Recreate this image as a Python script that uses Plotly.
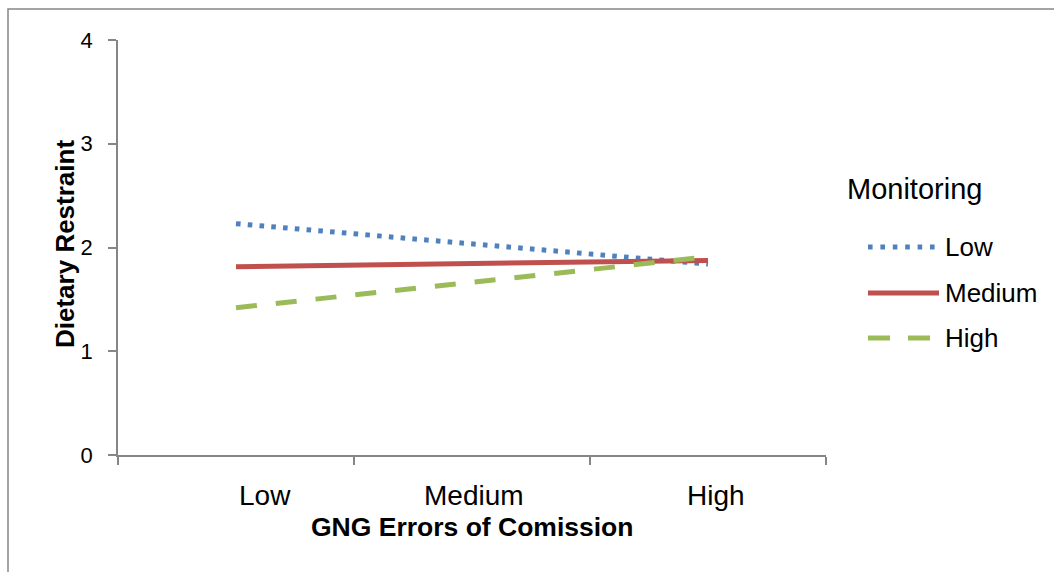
import plotly.graph_objects as go

# ---- data ----
categories = ["Low", "Medium", "High"]
monitoring_low = [2.23, None, 1.84]
monitoring_medium = [1.815, None, 1.875]
monitoring_high = [1.42, None, 1.91]
y_ticks = [0, 1, 2, 3, 4]
series_names = ["Low", "Medium", "High"]

colors = {"Low": "#4F81BD", "Medium": "#C0504D", "High": "#9BBB59"}
dashes = {"Low": "4.6px,7.2px", "Medium": "solid", "High": "21px,19px"}
leg_dashes = {"Low": "4.6px,7.8px", "Medium": "solid", "High": "22px,18px"}

W, H = 1054, 572
L, R, T, B = 118, 826, 40, 455

def px(x):
    return (x - L) / (R - L)

def py(y):
    return (B - y) / (B - T)

fig = go.Figure()
for name, vals in zip(series_names, [monitoring_low, monitoring_medium, monitoring_high]):
    fig.add_trace(go.Scatter(
        x=categories, y=vals, mode="lines", connectgaps=True, name=name,
        line=dict(color=colors[name], width=5, dash=dashes[name]),
        showlegend=False, hoverinfo="skip"))

font = "Liberation Sans, Arial, sans-serif"
axis_col = "#868686"

fig.update_layout(
    width=W, height=H,
    margin=dict(l=L, r=W - R, t=T, b=H - B, pad=0),
    paper_bgcolor="white", plot_bgcolor="white",
    font=dict(family=font, color="black"),
    xaxis=dict(type="category", categoryorder="array", categoryarray=categories,
               range=[-0.5, 2.5], tickson="boundaries", ticks="outside", ticklen=8,
               tickcolor=axis_col, tickwidth=1.5, showline=True, linecolor=axis_col,
               linewidth=1.5, showgrid=False, zeroline=False, showticklabels=False),
    yaxis=dict(range=[0, 4], tickvals=y_ticks, ticks="outside", ticklen=8,
               tickcolor=axis_col, tickwidth=1.5, showline=True, linecolor=axis_col,
               linewidth=1.5, showgrid=False, zeroline=False,
               tickfont=dict(size=22, family=font, color="black"),
               ticklabelstandoff=11),
)

shapes = []
# outer chart frame (cropped at right and bottom)
shapes.append(dict(type="rect", xref="paper", yref="paper",
                   x0=px(8), x1=px(1070), y0=py(590), y1=py(9),
                   line=dict(color="#878787", width=1.5), fillcolor="rgba(0,0,0,0)", layer="below"))

annotations = []
# category labels (Excel places them slightly right of the category centres)
label_px = [265, 474, 716]
for cat, xx in zip(categories, label_px):
    annotations.append(dict(text=cat, xref="paper", yref="paper",
                            x=px(xx), y=py(495), showarrow=False, xanchor="center", yanchor="middle",
                            font=dict(size=28, family=font, color="black")))
annotations.append(dict(text="<b>GNG Errors of Comission</b>", xref="paper", yref="paper",
                        x=px(472), y=py(527), showarrow=False, xanchor="center", yanchor="middle",
                        font=dict(size=26.5, family=font, color="black")))
annotations.append(dict(text="<b>Dietary Restraint</b>", xref="paper", yref="paper",
                        x=px(65), y=py(244), showarrow=False, xanchor="center", yanchor="middle",
                        textangle=-90, font=dict(size=26, family=font, color="black")))
# legend
annotations.append(dict(text="Monitoring", xref="paper", yref="paper",
                        x=px(845), y=py(189), showarrow=False, xanchor="left", yanchor="middle",
                        font=dict(size=29, family=font, color="black")))
leg_y = [247, 293, 338]
for name, yy in zip(series_names, leg_y):
    shapes.append(dict(type="line", xref="paper", yref="paper",
                       x0=px(868), x1=px(939), y0=py(yy), y1=py(yy),
                       line=dict(color=colors[name], width=5, dash=leg_dashes[name])))
    annotations.append(dict(text=name, xref="paper", yref="paper",
                            x=px(943), y=py(yy), showarrow=False, xanchor="left", yanchor="middle",
                            font=dict(size=26, family=font, color="black")))

fig.update_layout(shapes=shapes, annotations=annotations)
fig.write_html("out.html")
